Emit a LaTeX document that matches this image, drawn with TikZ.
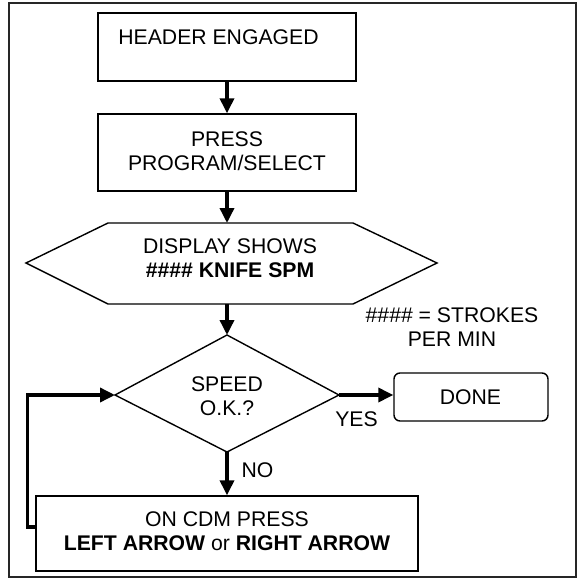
\documentclass[tikz,border=0pt]{standalone}
\usepackage{fontspec}
\setmainfont{Liberation Sans}
\usetikzlibrary{arrows.meta}
\begin{document}
\begin{tikzpicture}[x=1pt,y=-1pt,
  box/.style={draw,line width=1.4pt,inner sep=0pt},
  shapeline/.style={line width=1.4pt,line join=miter},
  txt/.style={font=\fontsize{21.2}{24.5}\selectfont,align=center,inner sep=0pt},
  flow/.style={line width=3.5pt,-{Triangle[length=15pt,width=14pt]}},
]
\useasboundingbox (0,0) rectangle (584,578);
\draw[line width=1.3pt,black!85] (9,3) rectangle (576,577);
% boxes
\node[box,minimum width=258pt,minimum height=68pt] (b1) at (227,47) {};
\node[txt] (t1) at (218.5,37) {HEADER ENGAGED};
\node[box,minimum width=258pt,minimum height=77pt] (b2) at (227,152.5) {};
\node[txt] (t2) at (227,151) {PRESS\\PROGRAM/SELECT};
% hexagon
\draw[shapeline] (26,263) coordinate (hL) -- (108,223) -- (353,223) -- (437,263) coordinate (hR) -- (353,304) -- (108,304) -- cycle;
\coordinate (hT) at (227,223);
\coordinate (hB) at (227,304);
\node[txt,text depth=0pt] (t3) at (230,258) {DISPLAY SHOWS\\\textbf{\#\#\#\# KNIFE SPM}};
% diamond
\draw[shapeline] (115,395) coordinate (dL) -- (227,335) coordinate (dT) -- (339,395) coordinate (dR) -- (227,452) coordinate (dB) -- cycle;
\node[txt] (t4) at (227,396) {SPEED\\O.K.?};
% done
\node[box,rounded corners=6pt,minimum width=154pt,minimum height=48pt] (done) at (471,397) {};
\node[txt] (t5) at (470.5,397) {DONE};
% bottom box
\node[box,minimum width=382pt,minimum height=75pt] (b5) at (227,533.5) {};
\node[txt] (t6) at (227,531) {ON CDM PRESS\\\textbf{LEFT ARROW} or \textbf{RIGHT ARROW}};
% note
\node[txt,baseline] (note) at (452,327) {\#\#\#\# = STROKES\\PER MIN};
% labels
\node[txt] (yes) at (356.5,419) {YES};
\node[txt] (no) at (257.5,470) {NO};
% connectors
\draw[flow] (b1.south) -- (b2.north);
\draw[flow] (b2.south) -- (hT);
\draw[flow] (hB) -- (dT);
\draw[flow] (dR) -- (done.west |- dR);
\draw[flow] (dB) -- (b5.north);
\draw[flow] ([yshift=6.5pt]b5.west) -- ++(-8,0) |- (dL);
\end{tikzpicture}
\end{document}
